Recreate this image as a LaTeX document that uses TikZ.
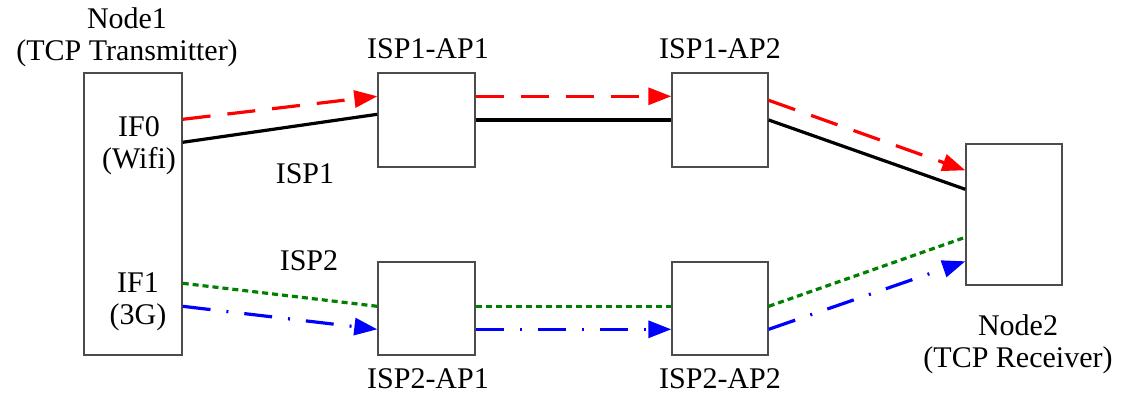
\documentclass[tikz,border=0pt]{standalone}
\usepackage{fontspec}
\setmainfont{Liberation Serif}
\usetikzlibrary{arrows.meta}
\definecolor{pathred}{RGB}{255,0,0}
\definecolor{pathgreen}{RGB}{0,128,0}
\definecolor{pathblue}{RGB}{0,0,255}
\tikzset{
  box/.style={draw=black!70, line width=1.4pt, inner sep=0pt, minimum width=#1},
  lbl/.style={font=\fontsize{30}{32}\selectfont, align=center, anchor=base, inner sep=0pt},
  wire/.style={line width=3.2pt, black},
  tcpdata/.style={line width=3.2pt, pathred, dash pattern=on 28pt off 17pt,
    -{Triangle[length=23pt,width=17pt]}},
  ackgreen/.style={line width=3.2pt, pathgreen, dash pattern=on 6pt off 4pt},
  tcpblue/.style={line width=3.2pt, pathblue, dash pattern=on 28pt off 16pt on 2pt off 16pt,
    -{Triangle[length=23pt,width=17pt]}},
}
\begin{document}
\begin{tikzpicture}[x=1pt,y=-1pt]
\useasboundingbox (0,0) rectangle (1127,399);

% hosts and access points
\node[box=98pt, minimum height=282pt] (node1) at (133,214) {};
\node[box=97pt, minimum height=94pt] (ap11) at (426.5,120) {};
\node[box=96pt, minimum height=94pt] (ap12) at (720,120) {};
\node[box=97pt, minimum height=93pt] (ap21) at (426.5,308.5) {};
\node[box=96pt, minimum height=93pt] (ap22) at (720,308.5) {};
\node[box=96pt, minimum height=141pt] (node2) at (1014,214.5) {};

% labels (base anchor sits on the last line)
\node[lbl] (t1) at (127,60) {Node1\\(TCP Transmitter)};
\node[lbl] (t2) at (1018,367) {Node2\\(TCP Receiver)};
\node[lbl] (t3) at (428,58) {ISP1-AP1};
\node[lbl] (t4) at (720,58) {ISP1-AP2};
\node[lbl] (t5) at (428,388) {ISP2-AP1};
\node[lbl] (t6) at (720,388) {ISP2-AP2};
\node[lbl] (t7) at (139,168) {IF0\\(Wifi)};
\node[lbl] (t8) at (138,324) {IF1\\(3G)};
\node[lbl] (t9) at (305,183) {ISP1};
\node[lbl] (t10) at (309,270) {ISP2};

% ISP1 path
\draw[wire] ([yshift=-70pt]node1.north east) -- ([yshift=-42pt]ap11.north west);
\draw[wire] (ap11.east) -- (ap12.west);
\draw[wire] (ap12.east) -- ([yshift=-46pt]node2.north west);
\draw[tcpdata] ([yshift=-47pt]node1.north east) -- ([yshift=-24pt]ap11.north west);
\draw[tcpdata] ([yshift=-24pt]ap11.north east) -- ([yshift=-24pt]ap12.north west);
\draw[tcpdata] ([yshift=-28pt]ap12.north east) -- ([yshift=-27pt]node2.north west);

% ISP2 path
\draw[ackgreen] ([yshift=-211pt]node1.north east) -- ([yshift=-45pt]ap21.north west);
\draw[ackgreen] ([yshift=-45pt]ap21.north east) -- ([yshift=-45pt]ap22.north west);
\draw[ackgreen] ([yshift=-45pt]ap22.north east) -- ([yshift=-94pt]node2.north west);
\draw[tcpblue] ([yshift=-234pt]node1.north east) -- ([yshift=-68pt]ap21.north west);
\draw[tcpblue] ([yshift=-68pt]ap21.north east) -- ([yshift=-68pt]ap22.north west);
\draw[tcpblue] ([yshift=-68pt]ap22.north east) -- ([yshift=-118pt]node2.north west);
\end{tikzpicture}
\end{document}
